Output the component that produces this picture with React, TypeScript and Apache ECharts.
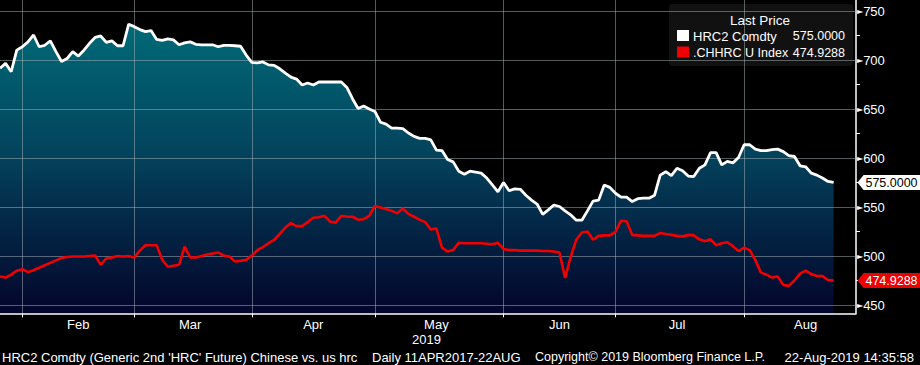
import React, { useEffect, useRef } from "react";
import * as echarts from "echarts";

// ---------- data ----------
const hrc2Name = "HRC2 Comdty";
const chhrcName = ".CHHRC U Index";
const legendTitle = "Last Price";

// HRC2 Comdty, trading days from 28-Jan-2019
const hrc2 = [
  691.5, 696.5, 688, 710, 713.5, 718.5, 725.5, 713.5, 715, 719.5,
  708.5, 698.5, 701.5, 708.5, 704, 710, 717, 723, 724.5, 718,
  719.5, 714.5, 714.5, 736.5, 734, 731, 729, 730, 721, 720,
  721.5, 720.5, 715.5, 717.5, 718.5, 716, 715.5, 715.5, 715.5, 713.5,
  715, 715, 714.5, 714, 705, 697.5, 697, 698, 695, 694.5,
  691, 686.5, 682.5, 680.5, 674.5, 676.5, 674.5, 677.5, 677.5, 677.5,
  677.5, 677.5, 672, 660.5, 650.5, 653, 650, 647.5, 636.5, 634.5,
  630.5, 630.5, 630, 625.5, 622, 620, 620, 618.5, 608, 607.5,
  598.5, 596, 586.5, 583.5, 586.5, 585.5, 584.5, 579.5, 572.5, 565.5,
  575, 566.5, 568.5, 568, 562, 557, 553, 542.5, 547, 552,
  550.5, 546, 542, 536.5, 536.5, 546, 556, 557, 572.5, 570,
  564, 560, 560, 555.5, 558.5, 559, 559, 562, 582.5, 586,
  582, 589.5, 587, 581.5, 581, 589.5, 593, 605.5, 605.5, 593,
  596.5, 595, 600.5, 613.5, 613.5, 609, 607.5, 607.5, 608.5, 609,
  606.5, 602.5, 601.5, 592, 591, 584.5, 582.5, 579.5, 576, 575,
];

// .CHHRC U Index
const chhrc = [
  479, 478, 481, 485, 486.5, 483.5, 485.5, 488, 490.5, 493,
  495.5, 498, 499, 499.5, 499.5, 499.5, 500, 500.5, 491, 497.5,
  498.5, 500, 499.5, 500, 498.5, 505.5, 511, 511, 511, 496,
  489, 490, 491, 509.5, 498.5, 498.5, 500, 501.5, 502.5, 503.5,
  500.5, 499.5, 494.5, 495, 496, 500.5, 506, 509, 513, 516.5,
  522.5, 529, 533.5, 530.5, 530.5, 534.5, 539, 539.5, 541, 535,
  534, 541, 540, 540, 537, 537.5, 541, 551, 549.5, 548,
  546, 543.5, 548.5, 543, 540, 537, 534.5, 527, 528, 508.5,
  504.5, 506, 513.5, 513, 513, 513, 513, 512.5, 512, 513.5,
  507, 506, 506, 505.5, 505.5, 505.5, 505.5, 505, 505, 504.5,
  503.5, 477.5, 499, 516.5, 524, 525, 516.5, 520.5, 521, 521,
  524.5, 536, 535.5, 521.5, 521, 520.5, 520.5, 520.5, 523.5, 522.5,
  521.5, 520.5, 520, 521.5, 521, 517, 515, 517, 511, 513,
  514, 510, 505, 508.5, 506, 496, 483, 481, 478, 479,
  470.5, 469.5, 475, 482, 485, 481.5, 479.5, 479.5, 475.5, 474.9288,
];

const monthNames = ["Jan", "Feb", "Mar", "Apr", "May", "Jun", "Jul", "Aug", "Sep", "Oct", "Nov", "Dec"];
const yearLabelMonth = "May";
const yearLabel = "2019";
const yMin = 441.5;
const yMax = 761.2;
const yTickMin = 450;
const yTickMax = 750;
const yTickStep = 50;
const yGridValues = [450, 500, 550, 600, 650, 700, 750];

const footerTexts = [
  "HRC2 Comdty (Generic 2nd 'HRC' Future) Chinese vs. us hrc",
  "Daily 11APR2017-22AUG",
  "Copyright\u00a9 2019 Bloomberg Finance L.P.",
  "22-Aug-2019 14:35:58",
];

// ---------- calendar of trading days (weekdays) ----------
type Day = { label: string; month: number };
function buildWeekdays(startUTC: number, count: number): Day[] {
  const out: Day[] = [];
  let t = startUTC;
  while (out.length < count) {
    const d = new Date(t);
    const wd = d.getUTCDay();
    if (wd !== 0 && wd !== 6) {
      out.push({
        label: `${d.getUTCFullYear()}-${d.getUTCMonth() + 1}-${d.getUTCDate()}`,
        month: d.getUTCMonth(),
      });
    }
    t += 86400000;
  }
  return out;
}
const allDays = buildWeekdays(Date.UTC(2019, 0, 28), 160);
const axisDays = allDays.slice(0, 154);
const categories = axisDays.map((d) => d.label);

const monthStart: number[] = [];
for (let i = 1; i < axisDays.length; i++) {
  if (axisDays[i].month !== axisDays[i - 1].month) monthStart.push(i);
}
const monthStartSet = new Set<number>(monthStart);
const monthLabelAt = new Map<number, string>();
{
  const firsts = new Map<number, number>();
  const lasts = new Map<number, number>();
  allDays.forEach((d, i) => {
    if (!firsts.has(d.month)) firsts.set(d.month, i);
    lasts.set(d.month, i);
  });
  firsts.forEach((f, m) => {
    if (f === 0) return; // partial first month, no label
    const l = lasts.get(m) as number;
    const mid = Math.round((f + l) / 2);
    if (mid < axisDays.length) monthLabelAt.set(mid, monthNames[m]);
  });
}

const FONT = '"Liberation Sans", Arial, sans-serif';
const GRID_COLOR = "rgba(170,180,186,0.5)";
const WHITE = "#ffffff";
const RED = "#f00000";

export default function App() {
  const ref = useRef<HTMLDivElement>(null);

  useEffect(() => {
    document.body.style.margin = "0";
    document.body.style.background = "#000";
    if (!ref.current) return;
    const chart = echarts.init(ref.current, null, { renderer: "svg" });

    const lastIdx = categories.length - 1;
    const lastH = hrc2[hrc2.length - 1];
    const lastC = chhrc[chhrc.length - 1];
    const tagPath = "path://M0,7 L6,0 L62,0 L62,14 L6,14 Z";

    const tag = (value: number, fill: string, textColor: string) => ({
      symbol: tagPath,
      symbolSize: [63, 15],
      symbolKeepAspect: false,
      symbolOffset: [33, 0],
      silent: true,
      z: 12,
      itemStyle: { color: fill },
      label: {
        show: true,
        position: "inside",
        offset: [2.5, 0.5],
        formatter: value.toFixed(4),
        color: textColor,
        fontSize: 12.5,
        fontFamily: FONT,
      },
      data: [{ coord: [lastIdx, value], value }],
    });

    const gridMarkLine = (data: any[]) => ({
      silent: true,
      symbol: ["none", "none"],
      label: { show: false },
      emphasis: { disabled: true },
      lineStyle: { color: GRID_COLOR, type: "solid", width: 1, opacity: 1 },
      data,
    });

    const option: any = {
      animation: false,
      backgroundColor: "#000000",
      textStyle: { fontFamily: FONT },
      grid: [
        { left: 0, right: 64, top: 0, bottom: 51.7 },
        { left: 0, right: 64, top: 11, bottom: 60 },
      ],
      xAxis: [
        {
          type: "category",
          gridIndex: 0,
          data: categories,
          boundaryGap: false,
          z: 3,
          axisLine: { onZero: false, lineStyle: { color: WHITE, width: 1.5 } },
          axisTick: {
            show: true,
            interval: (i: number) => monthStartSet.has(i),
            length: 4,
            lineStyle: { color: WHITE, width: 1 },
          },
          axisLabel: {
            show: true,
            interval: (i: number) => monthLabelAt.has(i),
            formatter: (_v: string, i: number) => {
              const m = monthLabelAt.get(i) || "";
              return m === yearLabelMonth ? `{m|${m}}\n{y|${yearLabel}}` : `{m|${m}}`;
            },
            rich: {
              m: { color: WHITE, fontSize: 13, fontFamily: FONT, lineHeight: 15 },
              y: { color: WHITE, fontSize: 13, fontFamily: FONT, lineHeight: 15, padding: [0, 20, 0, 0] },
            },
            margin: 4,
          },
          splitLine: { show: false },
        },
        { type: "category", gridIndex: 1, data: categories, boundaryGap: false, show: false },
      ],
      yAxis: [
        {
          type: "value",
          gridIndex: 0,
          position: "right",
          min: yMin,
          max: yMax,
          z: 3,
          axisLine: { show: true, onZero: false, lineStyle: { color: WHITE, width: 1.5 } },
          axisTick: { show: false },
          axisLabel: { show: false },
          splitLine: { show: false },
        },
        {
          type: "value",
          gridIndex: 1,
          position: "right",
          min: yTickMin,
          max: yTickMax,
          interval: yTickStep,
          z: 3,
          axisLine: { show: false },
          axisTick: { show: false },
          minorTick: { show: true, splitNumber: 2, length: 4, lineStyle: { color: WHITE, width: 1 } },
          axisLabel: {
            show: true,
            margin: 1,
            formatter: (v: number) => `{t|\u25BA}{v|${v}}`,
            rich: {
              t: { color: WHITE, fontSize: 8, fontFamily: "DejaVu Sans" },
              v: { color: WHITE, fontSize: 13, fontFamily: FONT },
            },
          },
          splitLine: { show: false },
        },
      ],
      series: [
        {
          name: hrc2Name + " area",
          type: "line",
          xAxisIndex: 0,
          yAxisIndex: 0,
          data: hrc2,
          symbol: "none",
          z: 1,
          silent: true,
          lineStyle: { width: 0, opacity: 0 },
          areaStyle: {
            origin: "start",
            opacity: 1,
            color: new echarts.graphic.LinearGradient(0, 0, 0, 1, [
              { offset: 0, color: "#006a77" },
              { offset: 0.45, color: "#03435c" },
              { offset: 1, color: "#03042b" },
            ]),
          },
        },
        {
          name: "grid-h",
          type: "line",
          xAxisIndex: 0,
          yAxisIndex: 0,
          data: [],
          z: 3,
          silent: true,
          markLine: gridMarkLine(yGridValues.map((v) => ({ yAxis: v }))),
        },
        {
          name: "grid-v",
          type: "line",
          xAxisIndex: 0,
          yAxisIndex: 0,
          data: [],
          z: 3,
          silent: true,
          markLine: gridMarkLine(monthStart.map((i) => ({ xAxis: i }))),
        },
        {
          name: hrc2Name,
          type: "line",
          xAxisIndex: 0,
          yAxisIndex: 0,
          data: hrc2,
          symbol: "none",
          z: 10,
          lineStyle: { color: WHITE, width: 2.8 },
          markPoint: tag(lastH, "#ffffff", "#000000"),
        },
        {
          name: chhrcName,
          type: "line",
          xAxisIndex: 0,
          yAxisIndex: 0,
          data: chhrc,
          symbol: "none",
          z: 10,
          lineStyle: { color: RED, width: 2.6 },
          markPoint: tag(lastC, "#ee0000", "#ffffff"),
        },
      ],
      graphic: [
        {
          type: "group",
          z: 20,
          children: [
            { type: "rect", shape: { x: 669, y: 4, width: 184, height: 62, r: 4 }, style: { fill: "#111111" } },
            { type: "text", x: 760, y: 20.5, style: { text: legendTitle, fill: WHITE, fontSize: 13.5, fontFamily: FONT, align: "center", verticalAlign: "middle" } },
            { type: "rect", shape: { x: 677, y: 30, width: 12, height: 11 }, style: { fill: WHITE } },
            { type: "text", x: 693, y: 36, style: { text: hrc2Name, fill: WHITE, fontSize: 13, fontFamily: FONT, align: "left", verticalAlign: "middle" } },
            { type: "text", x: 845, y: 36, style: { text: lastH.toFixed(4), fill: WHITE, fontSize: 12.5, fontFamily: FONT, align: "right", verticalAlign: "middle" } },
            { type: "rect", shape: { x: 677, y: 46.5, width: 12, height: 11 }, style: { fill: RED } },
            { type: "text", x: 693, y: 52.5, style: { text: chhrcName, fill: WHITE, fontSize: 12.5, fontFamily: FONT, align: "left", verticalAlign: "middle" } },
            { type: "text", x: 845, y: 52.5, style: { text: lastC.toFixed(4), fill: WHITE, fontSize: 12.5, fontFamily: FONT, align: "right", verticalAlign: "middle" } },
          ],
        },
        { type: "text", x: 2, y: 357, style: { text: footerTexts[0], fill: WHITE, fontSize: 13, fontFamily: FONT, align: "left", verticalAlign: "middle" } },
        { type: "text", x: 372, y: 357, style: { text: footerTexts[1], fill: WHITE, fontSize: 13, fontFamily: FONT, align: "left", verticalAlign: "middle" } },
        { type: "text", x: 535, y: 357, style: { text: footerTexts[2], fill: WHITE, fontSize: 12.5, fontFamily: FONT, align: "left", verticalAlign: "middle" } },
        { type: "text", x: 914, y: 357, style: { text: footerTexts[3], fill: WHITE, fontSize: 13, fontFamily: FONT, align: "right", verticalAlign: "middle" } },
      ],
    };

    chart.setOption(option);
    return () => chart.dispose();
  }, []);

  return <div ref={ref} style={{ width: 920, height: 365, background: "#000" }} />;
}
